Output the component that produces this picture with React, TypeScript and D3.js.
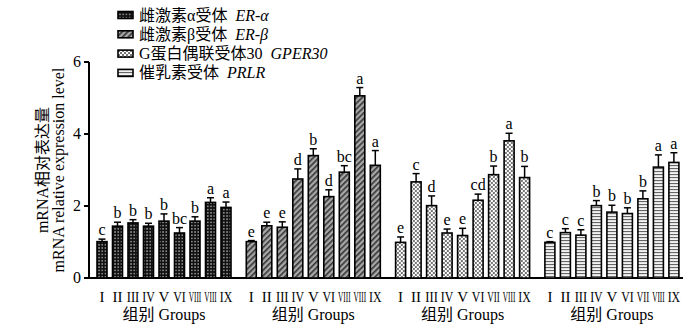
import React from "react";
import * as d3 from "d3";

const groups = ["ER-α", "ER-β", "GPER30", "PRLR"];
const bars = ["I", "II", "III", "IV", "V", "VI", "VII", "VIII", "IX"];
const tickLabelsA = ["I", "II", "III", "IV", "V", "VI", "VIII", "VIII", "IX"];
const tickLabelsB = ["I", "II", "III", "IV", "V", "VI", "VII", "VIII", "IX"];
const groupTickLabels = [tickLabelsA, tickLabelsA, tickLabelsB, tickLabelsB];

const erAlpha = [1.01, 1.44, 1.53, 1.44, 1.58, 1.25, 1.58, 2.1, 1.96];
const erAlphaErr = [0.07, 0.11, 0.09, 0.08, 0.2, 0.15, 0.12, 0.13, 0.15];
const erAlphaSig = ["c", "b", "b", "b", "b", "bc", "b", "a", "a"];

const erBeta = [1.01, 1.45, 1.41, 2.75, 3.4, 2.26, 2.94, 5.06, 3.13];
const erBetaErr = [0.03, 0.1, 0.15, 0.28, 0.19, 0.19, 0.18, 0.23, 0.41];
const erBetaSig = ["e", "e", "e", "d", "b", "d", "bc", "a", "a"];

const gper = [0.99, 2.67, 2.01, 1.25, 1.18, 2.16, 2.87, 3.81, 2.79];
const gperErr = [0.15, 0.23, 0.27, 0.11, 0.2, 0.17, 0.24, 0.21, 0.31];
const gperSig = ["e", "c", "d", "e", "e", "cd", "b", "a", "b"];

const prlr = [0.99, 1.26, 1.19, 2.01, 1.83, 1.79, 2.2, 3.08, 3.21];
const prlrErr = [0.02, 0.11, 0.15, 0.14, 0.19, 0.16, 0.22, 0.34, 0.27];
const prlrSig = ["c", "c", "c", "b", "b", "b", "b", "a", "a"];

const seriesValues = [erAlpha, erBeta, gper, prlr];
const seriesErrors = [erAlphaErr, erBetaErr, gperErr, prlrErr];
const seriesSig = [erAlphaSig, erBetaSig, gperSig, prlrSig];

const legendCn = ["雌激素α受体", "雌激素β受体", "G蛋白偶联受体30", "催乳素受体"];
const legendEn = ["ER-α", "ER-β", "GPER30", "PRLR"];
const patternIds = ["pDots", "pDiag", "pCheck", "pHoriz"];

const yTicks = [0, 2, 4, 6];

const SERIF = "Liberation Serif, Noto Sans CJK SC, serif";

export default function App() {
  const W = 700;
  const H = 325;
  const axisX = 89;
  const y = d3.scaleLinear().domain([0, 6]).range([278, 62]);
  const outer = d3
    .scaleBand<string>()
    .domain(groups)
    .range([94.25, 681.65])
    .paddingInner(0.0656)
    .paddingOuter(0);
  const inner = d3
    .scaleBand<string>()
    .domain(bars)
    .range([0, outer.bandwidth()])
    .paddingInner(0.355)
    .paddingOuter(0.1775);

  const labelFit = (s: string) => {
    if (s.length >= 3) return { textLength: 12.5, lengthAdjust: "spacingAndGlyphs" };
    if (s === "IV" || s === "VI" || s === "IX") return { textLength: 12.5, lengthAdjust: "spacingAndGlyphs" };
    return {};
  };

  return (
    <svg width={W} height={H} style={{ position: "absolute", left: 0, top: 0, background: "#fff" }}>
      <defs>
        <pattern id="pDots" width={3.2} height={3.2} patternUnits="userSpaceOnUse">
          <rect width={3.2} height={3.2} fill="#111" />
          <circle cx={1.6} cy={1.6} r={0.75} fill="#bbb" />
        </pattern>
        <pattern id="pDiag" width={4} height={4} patternUnits="userSpaceOnUse" patternTransform="rotate(45)">
          <rect width={4} height={4} fill="#a8a8a8" />
          <rect x={0} y={0} width={1.6} height={4} fill="#333" />
        </pattern>
        <pattern id="pCheck" width={4} height={4} patternUnits="userSpaceOnUse">
          <rect width={4} height={4} fill="#fff" />
          <rect x={0} y={0} width={2} height={2} fill="#777" />
          <rect x={2} y={2} width={2} height={2} fill="#777" />
        </pattern>
        <pattern id="pHoriz" width={3} height={3} patternUnits="userSpaceOnUse">
          <rect width={3} height={3} fill="#f2f2f2" />
          <rect x={0} y={0} width={3} height={1.1} fill="#666" />
        </pattern>
      </defs>

      {/* Y axis */}
      <line x1={axisX} x2={axisX} y1={y(6)} y2={y(0)} stroke="#000" strokeWidth={2} />
      {yTicks.map((t) => (
        <g key={t}>
          <line x1={axisX - 5} x2={axisX} y1={y(t)} y2={y(t)} stroke="#000" strokeWidth={2} />
          <text x={axisX - 8} y={y(t) + 5} textAnchor="end" fontFamily={SERIF} fontSize={16}>
            {t}
          </text>
        </g>
      ))}
      {/* Y title */}
      <g transform={`translate(48, ${y(3)}) rotate(-90)`}>
        <text x={0} y={0} textAnchor="middle" fontFamily={SERIF} fontSize={16}>
          mRNA相对表达量
        </text>
        <text x={0} y={16} textAnchor="middle" fontFamily={SERIF} fontSize={16}>
          mRNA relative expression level
        </text>
      </g>

      {/* X axis */}
      <line x1={axisX - 1} x2={683} y1={y(0)} y2={y(0)} stroke="#000" strokeWidth={2} />

      {groups.map((g, gi) => {
        const gx = outer(g) as number;
        return (
          <g key={g} transform={`translate(${gx},0)`}>
            {bars.map((b, bi) => {
              const v = seriesValues[gi][bi];
              const e = seriesErrors[gi][bi];
              const bx = inner(b) as number;
              const bw = inner.bandwidth();
              const cx = bx + bw / 2;
              const top = y(v);
              const etop = y(v + e);
              const lab = groupTickLabels[gi][bi];
              return (
                <g key={b}>
                  <rect
                    x={bx}
                    y={top}
                    width={bw}
                    height={y(0) - top}
                    fill={`url(#${patternIds[gi]})`}
                    stroke="#000"
                    strokeWidth={1.6}
                  />
                  <line x1={cx} x2={cx} y1={top} y2={etop} stroke="#000" strokeWidth={1.5} />
                  <line x1={cx - 3.5} x2={cx + 3.5} y1={etop} y2={etop} stroke="#000" strokeWidth={1.5} />
                  <text x={cx} y={etop - 4} textAnchor="middle" fontFamily={SERIF} fontSize={16}>
                    {seriesSig[gi][bi]}
                  </text>
                  <text x={cx} y={302} textAnchor="middle" fontFamily={SERIF} fontSize={15} {...labelFit(lab)}>
                    {lab}
                  </text>
                </g>
              );
            })}
            <text x={outer.bandwidth() / 2} y={320} textAnchor="middle" fontFamily={SERIF} fontSize={16}>
              组别 Groups
            </text>
          </g>
        );
      })}

      {/* Legend */}
      {legendEn.map((en, i) => {
        const ly = 15 + i * 19.3;
        return (
          <g key={en}>
            <rect x={118} y={ly - 3.5} width={15} height={7} fill={`url(#${patternIds[i]})`} stroke="#000" strokeWidth={1.6} />
            <text x={139} y={ly + 5.5} fontFamily={SERIF} fontSize={16}>
              {legendCn[i]}
              <tspan dx={8} fontStyle="italic">
                {en}
              </tspan>
            </text>
          </g>
        );
      })}
    </svg>
  );
}
